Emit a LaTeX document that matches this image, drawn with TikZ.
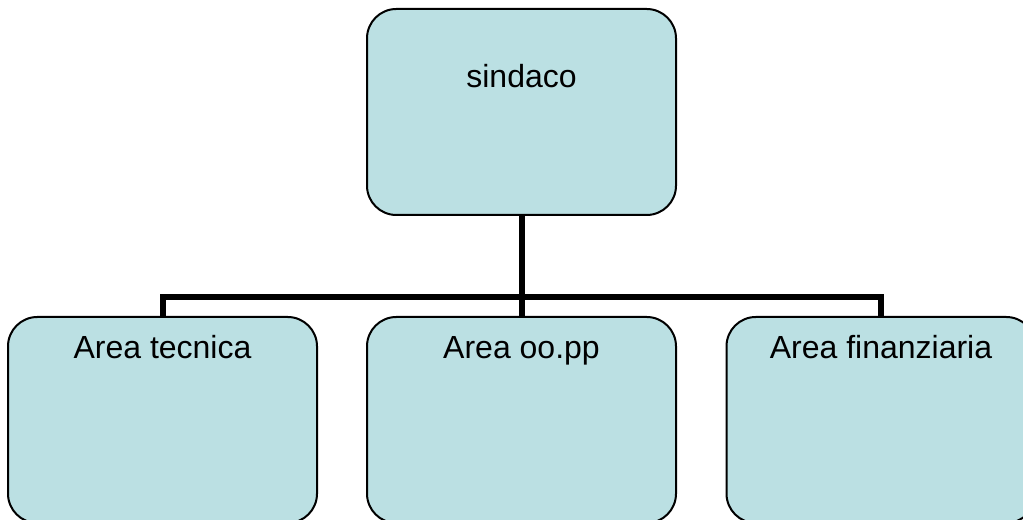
\documentclass[tikz,border=0pt]{standalone}
\usepackage{fontspec}
\setmainfont{Liberation Sans}
\usepackage{tikz}
\usepackage{xcolor}
\definecolor{paleteal}{RGB}{187,224,227}
\tikzset{
    areabox/.style={draw=black, fill=paleteal, line width=1.5pt, rounded corners=22pt,
        minimum width=231.75pt, minimum height=154.5pt, inner sep=0pt, outer sep=0pt},
    arealabel/.style={anchor=base, inner sep=0pt, font=\fontsize{24}{28}\selectfont},
    tree/.style={line width=4.5pt, color=black}
}

\begin{document}
\begin{tikzpicture}[x=0.75pt,y=0.75pt]
    \useasboundingbox (0,0) rectangle (1023,520);
    \clip (0,0) rectangle (1023,520);
    \node[areabox] (sindaco) at (521.5,408) {}; %top
    \node[areabox] (tecnica) at (162.5,100) {};
    \node[areabox] (oopp) at (521.5,100) {};
    \node[areabox] (finanza) at (881,100) {}; %cut by the page edge
    \node[arealabel] (sindaco-txt) at ([yshift=-59pt]sindaco.north) {sindaco};
    \node[arealabel] (tecnica-txt) at ([yshift=-31.5pt]tecnica.north) {Area tecnica};
    \node[arealabel] (oopp-txt) at ([yshift=-31.5pt]oopp.north) {Area oo.pp};
    \node[arealabel] (finanza-txt) at ([yshift=-31.5pt]finanza.north) {Area finanziaria};
    \coordinate (bus) at (521.5,223);
    \draw[tree] (sindaco.south) -- (bus);
    \foreach \n in {tecnica,oopp,finanza}
        \draw[tree] (bus) -| (\n.north);
\end{tikzpicture}
\end{document}
